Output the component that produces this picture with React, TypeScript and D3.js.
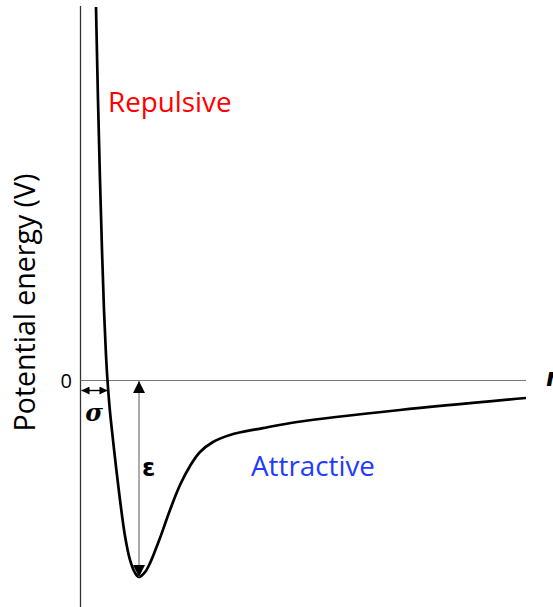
import React from "react";
import * as d3 from "d3";

// Interatomic separation (arbitrary units) and potential energy (units of ε)
const distance = [0.574, 0.648, 0.722, 0.796, 0.87, 0.944, 1.0, 1.093, 1.204, 1.315, 1.463, 1.648, 1.833, 2.019, 2.167, 2.389, 2.574, 2.759, 2.944, 3.315, 3.685, 4.056, 4.426, 4.907, 5.537, 6.759, 8.019, 11.83, 16.5];
const energy = [1.901, 1.428, 1.02, 0.664, 0.359, 0.13, 0.0, -0.16, -0.303, -0.44, -0.608, -0.791, -0.913, -0.979, -1.0, -0.975, -0.929, -0.868, -0.802, -0.659, -0.532, -0.435, -0.364, -0.313, -0.277, -0.242, -0.211, -0.15, -0.089];

const sigma = 1.0;
const epsilon = 1.0;
const rMin = 2.167;

const yTickLabels = ["0"];
const regionLabels = ["Repulsive", "Attractive"];

const W = 553;
const H = 607;

export default function App() {
  const x = d3.scaleLinear().domain([0, 16.5]).range([80.5, 526]);
  const y = d3.scaleLinear().domain([-1, 0]).range([577, 380.5]);

  const pts: [number, number][] = distance.map((d, i) => [d, energy[i]]);
  const line = d3
    .line<[number, number]>()
    .x((d) => x(d[0]))
    .y((d) => y(d[1]))
    .curve(d3.curveCatmullRom.alpha(0.5));

  const font = "'Open Sans', Lato, sans-serif";

  return (
    <svg
      width={W}
      height={H}
      style={{ position: "absolute", left: 0, top: 0, background: "#fff" }}
    >
      <defs>
        <marker id="sm" viewBox="0 0 10 10" refX="10" refY="5" markerWidth="9" markerHeight="8" markerUnits="userSpaceOnUse" orient="auto-start-reverse">
          <path d="M0,0 L10,5 L0,10 z" fill="#000" />
        </marker>
        <marker id="em" viewBox="0 0 10 10" refX="10" refY="5" markerWidth="12" markerHeight="12" markerUnits="userSpaceOnUse" orient="auto-start-reverse">
          <path d="M0,0 L10,5 L0,10 z" fill="#000" />
        </marker>
      </defs>

      {/* vertical energy axis */}
      <line x1={x(0)} x2={x(0)} y1={6} y2={H} stroke="#333" strokeWidth={1.3} />
      {/* zero-energy baseline */}
      <line x1={x(0)} x2={x(16.5)} y1={y(0)} y2={y(0)} stroke="#777" strokeWidth={1.2} />

      {yTickLabels.map((t) => (
        <text key={t} x={72} y={y(0) + 7} textAnchor="end" fontFamily={font} fontSize={20} fill="#000">
          {t}
        </text>
      ))}

      <text
        transform={`translate(35, ${(170 + 435) / 2}) rotate(-90)`}
        textAnchor="middle"
        fontFamily={font}
        fontSize={28.5}
        fill="#000"
      >
        Potential energy (V)
      </text>

      {/* potential curve */}
      <path d={line(pts) ?? ""} fill="none" stroke="#000" strokeWidth={2.7} />

      {/* σ: distance where V crosses zero */}
      <line x1={x(0) + 1} x2={x(sigma)} y1={y(0) + 10} y2={y(0) + 10} stroke="#000" strokeWidth={1.4} markerStart="url(#sm)" markerEnd="url(#sm)" />
      <text x={(x(0) + x(sigma)) / 2} y={y(0) + 40} textAnchor="middle" fontFamily="'DejaVu Serif', serif" fontStyle="italic" fontWeight="bold" fontSize={24} fill="#000">
        σ
      </text>

      {/* ε: depth of the well */}
      <line x1={x(rMin)} x2={x(rMin)} y1={y(0) + 0.5} y2={y(-epsilon)} stroke="#888" strokeWidth={1.4} markerStart="url(#em)" markerEnd="url(#em)" />
      <text x={x(rMin) + 3} y={476} fontFamily="'DejaVu Sans', sans-serif" fontWeight="bold" fontSize={24} fill="#000">
        ε
      </text>

      <text x={108} y={112} fontFamily={font} fontSize={27.8} fill="#ff0000">
        {regionLabels[0]}
      </text>
      <text x={251} y={476} fontFamily={font} fontSize={27.8} fill="#1f3cff">
        {regionLabels[1]}
      </text>

      {/* separation axis label */}
      <text x={546} y={386} fontFamily="'DejaVu Sans', sans-serif" fontStyle="italic" fontWeight="bold" fontSize={24} fill="#000">
        r
      </text>
    </svg>
  );
}
